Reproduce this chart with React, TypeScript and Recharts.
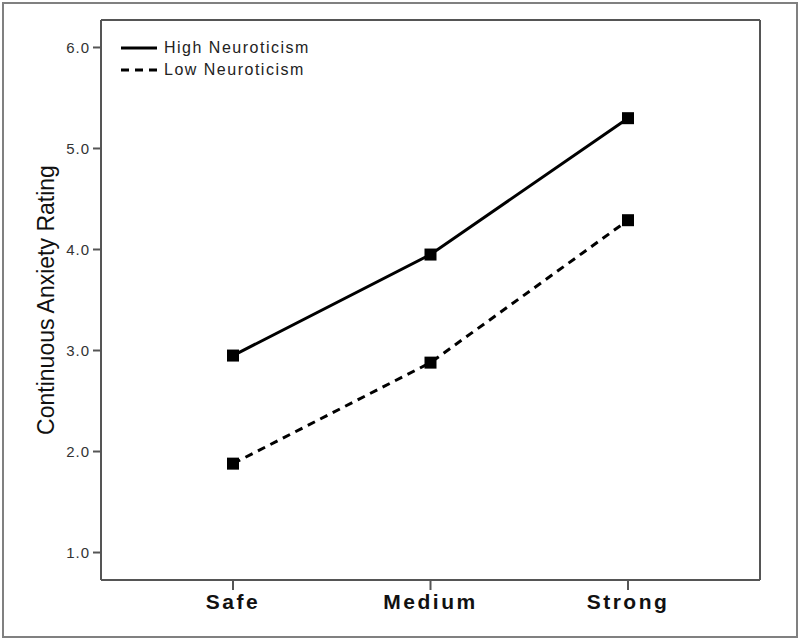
import React from "react";
import { LineChart, Line, XAxis, YAxis } from "recharts";

const categories = ["Safe", "Medium", "Strong"];
const highNeuroticism = [2.95, 3.95, 5.3];
const lowNeuroticism = [1.88, 2.88, 4.29];
const yTicks = [1, 2, 3, 4, 5, 6];

const data = categories.map((c, i) => ({
  cat: c,
  high: highNeuroticism[i],
  low: lowNeuroticism[i],
}));

const FONT = '"Liberation Sans", Arial, sans-serif';
const AXIS = "#555";

const Square = (props: any) => {
  const { cx, cy, index, dataKey } = props;
  if (cx == null || cy == null) return null;
  return <rect key={`${dataKey}-${index}`} x={cx - 6} y={cy - 6} width={12} height={12} fill="#000" />;
};

// legend drawn as plain html, laid over the plot (a recharts Legend on the left would shrink the plot)
const LegendBox = () => (
  <div
    style={{
      position: "absolute",
      left: 116,
      top: 37,
      fontFamily: FONT,
      fontSize: 16,
      color: "#222",
      letterSpacing: 1.5,
      lineHeight: "22px",
    }}
  >
    <div style={{ display: "flex", alignItems: "center" }}>
      <svg width={42} height={10}>
        <line x1={5} y1={5} x2={41} y2={5} stroke="#000" strokeWidth={3} />
      </svg>
      <span style={{ marginLeft: 6 }}>High Neuroticism</span>
    </div>
    <div style={{ display: "flex", alignItems: "center" }}>
      <svg width={42} height={10}>
        <line x1={5} y1={5} x2={41} y2={5} stroke="#000" strokeWidth={3} strokeDasharray="8 6" />
      </svg>
      <span style={{ marginLeft: 6 }}>Low Neuroticism</span>
    </div>
  </div>
);

export default function App() {
  return (
    <div style={{ position: "absolute", left: 0, top: 0, width: 800, height: 640, background: "#fff" }}>
      <div
        style={{
          position: "absolute",
          left: 2,
          top: 2,
          width: 796,
          height: 636,
          border: "2px solid #808080",
          boxSizing: "border-box",
        }}
      />
      <LineChart width={800} height={640} data={data} margin={{ top: 19, right: 39, left: 0, bottom: 0 }}>
        <XAxis
          dataKey="cat"
          height={60}
          padding={{ left: 132, right: 132 }}
          axisLine={{ stroke: AXIS, strokeWidth: 2 }}
          tickLine={{ stroke: AXIS, strokeWidth: 2 }}
          tickSize={10}
          tickMargin={4}
          tick={{ fontFamily: FONT, fontSize: 21, fontWeight: "bold", fill: "#111", letterSpacing: 2.5 }}
        />
        <XAxis
          xAxisId="top"
          dataKey="cat"
          orientation="top"
          height={1}
          tick={false}
          tickLine={false}
          axisLine={{ stroke: AXIS, strokeWidth: 2 }}
        />
        <YAxis
          type="number"
          width={101}
          domain={[0.728, 6.272]}
          ticks={yTicks}
          tickFormatter={(v: number) => v.toFixed(1)}
          axisLine={{ stroke: AXIS, strokeWidth: 2 }}
          tickLine={{ stroke: AXIS, strokeWidth: 2 }}
          tickSize={8}
          tickMargin={3}
          tick={{ fontFamily: FONT, fontSize: 15, fill: "#333", letterSpacing: 1 }}
          label={{
            content: () => (
              <text
                x={46}
                y={300}
                transform="rotate(-90 46 300)"
                textAnchor="middle"
                dominantBaseline="central"
                style={{ fontFamily: FONT, fontSize: 23, fill: "#111" }}
              >
                Continuous Anxiety Rating
              </text>
            ),
          }}
        />
        <YAxis
          yAxisId="right"
          orientation="right"
          type="number"
          width={1}
          domain={[0.728, 6.272]}
          tick={false}
          tickLine={false}
          axisLine={{ stroke: AXIS, strokeWidth: 2 }}
        />
        <Line
          dataKey="high"
          name="High Neuroticism"
          stroke="#000"
          strokeWidth={3}
          dot={Square}
          activeDot={false}
          isAnimationActive={false}
        />
        <Line
          dataKey="low"
          name="Low Neuroticism"
          stroke="#000"
          strokeWidth={3}
          strokeDasharray="8 6"
          dot={Square}
          activeDot={false}
          isAnimationActive={false}
        />
      </LineChart>
      <LegendBox />
    </div>
  );
}
